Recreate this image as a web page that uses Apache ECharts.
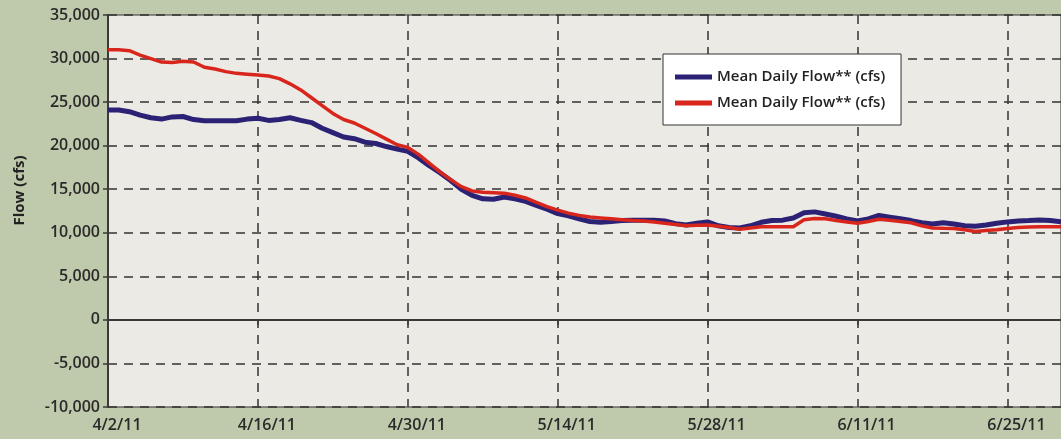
<!DOCTYPE html>
<html>
<head>
<meta charset="utf-8">
<script src="https://cdn.jsdelivr.net/npm/echarts@6/dist/echarts.min.js"></script>
<style>
  html, body { margin: 0; padding: 0; background: #bfc9ab; }
  #chart { width: 1061px; height: 439px; }
</style>
</head>
<body>
<div id="chart"></div>
<script>
// daily dates 4/2/11 .. 6/30/11
const dates = [];
for (let i = 0; i < 90; i++) {
  const d = new Date(Date.UTC(2011, 3, 2 + i));
  dates.push((d.getUTCMonth() + 1) + "/" + d.getUTCDate() + "/11");
}

// same label twice in the original; trailing space keeps legend entries apart
const seriesNames = ["Mean Daily Flow** (cfs)", "Mean Daily Flow** (cfs) "];

// blue series (cfs)
const flowBlue = [
  24100, 24100, 23900, 23500, 23200, 23050, 23300, 23350, 23000, 22850,
  22850, 22850, 22850, 23050, 23150, 22900, 23000, 23200, 22900, 22650,
  22000, 21500, 21000, 20800, 20400, 20250, 19900, 19600, 19350, 18600,
  17700, 16900, 16000, 15000, 14300, 13900, 13850, 14100, 13900, 13600,
  13150, 12700, 12200, 11950, 11600, 11300, 11200, 11300, 11400, 11450,
  11450, 11450, 11350, 11050, 10900, 11100, 11250, 10800, 10600, 10550,
  10800, 11200, 11400, 11450, 11700, 12300, 12400, 12150, 11900, 11600,
  11350, 11600, 12000, 11800, 11600, 11400, 11150, 11000, 11150, 11000,
  10800, 10750, 10900, 11100, 11250, 11350, 11400, 11470, 11400, 11250
];

// red series (cfs)
const flowRed = [
  31000, 31000, 30900, 30400, 30000, 29600, 29550, 29700, 29600, 29000,
  28800, 28500, 28300, 28200, 28100, 28000, 27700, 27100, 26400, 25500,
  24600, 23700, 23000, 22600, 22000, 21400, 20750, 20100, 19800, 19000,
  18000, 17000, 16100, 15300, 14800, 14650, 14600, 14550, 14300, 14000,
  13500, 13000, 12600, 12250, 12000, 11800, 11700, 11600, 11500, 11400,
  11350, 11250, 11100, 10950, 10800, 10850, 10900, 10750, 10600, 10400,
  10550, 10700, 10700, 10700, 10700, 11500, 11650, 11600, 11400, 11250,
  11100, 11300, 11550, 11450, 11300, 11150, 10800, 10550, 10520, 10500,
  10350, 10150, 10250, 10350, 10500, 10600, 10650, 10700, 10700, 10700
];

const blue = "#2c2275";
const red = "#d8261d";
const ink = "#2a2a2a";
const font = "'Open Sans', 'Liberation Sans', sans-serif";

const chart = echarts.init(document.getElementById("chart"));

chart.setOption({
  backgroundColor: "#bfc9ab",
  animation: false,
  grid: {
    left: 108, top: 15, right: -1, bottom: 32,
    show: true,
    backgroundColor: "#eceae4",
    borderColor: "#333",
    borderWidth: 1
  },
  legend: {
    left: 663, top: 54,
    orient: "vertical",
    backgroundColor: "#fff",
    borderColor: "#333",
    borderWidth: 1,
    padding: [14, 12, 13, 12],
    itemGap: 8,
    itemWidth: 37,
    itemHeight: 5,
    icon: "rect",
    textStyle: { fontFamily: font, fontSize: 15, fontWeight: 600, color: "#222", lineHeight: 18 },
    data: seriesNames
  },
  xAxis: {
    type: "category",
    data: dates,
    boundaryGap: false,
    axisLine: { lineStyle: { color: "#3a3a3a", width: 2 } },
    axisTick: { show: true, interval: 13, length: 5, lineStyle: { color: "#3a3a3a", width: 1.5 } },
    axisLabel: {
      interval: 13,
      margin: 10,
      padding: [0, 0, 0, 18],
      fontFamily: font, fontSize: 16, fontWeight: 600, color: ink
    },
    splitLine: { show: true, interval: 13, lineStyle: { color: "#333", width: 1.5, type: [9, 7] } }
  },
  yAxis: {
    type: "value",
    min: -10000, max: 35000, interval: 5000,
    name: "Flow (cfs)",
    nameLocation: "middle",
    nameGap: 81,
    nameTextStyle: { fontFamily: font, fontSize: 15, fontWeight: 700, color: "#222", padding: [0, 0, 0, 41] },
    axisLine: { show: true, lineStyle: { color: "#3a3a3a", width: 2 } },
    axisTick: { show: true, length: 5, lineStyle: { color: "#3a3a3a", width: 1.5 } },
    axisLabel: {
      margin: 8,
      fontFamily: font, fontSize: 16, fontWeight: 600, color: ink,
      formatter: v => v.toLocaleString("en-US")
    },
    splitLine: { show: true, lineStyle: { color: "#333", width: 1.5, type: [9, 7] } }
  },
  series: [
    {
      name: seriesNames[0],
      type: "line",
      data: flowBlue,
      symbol: "none",
      lineStyle: { color: blue, width: 5 },
      itemStyle: { color: blue },
      z: 2
    },
    {
      name: seriesNames[1],
      type: "line",
      data: flowRed,
      symbol: "none",
      lineStyle: { color: red, width: 3.5 },
      itemStyle: { color: red },
      z: 3
    }
  ]
});
</script>
</body>
</html>
